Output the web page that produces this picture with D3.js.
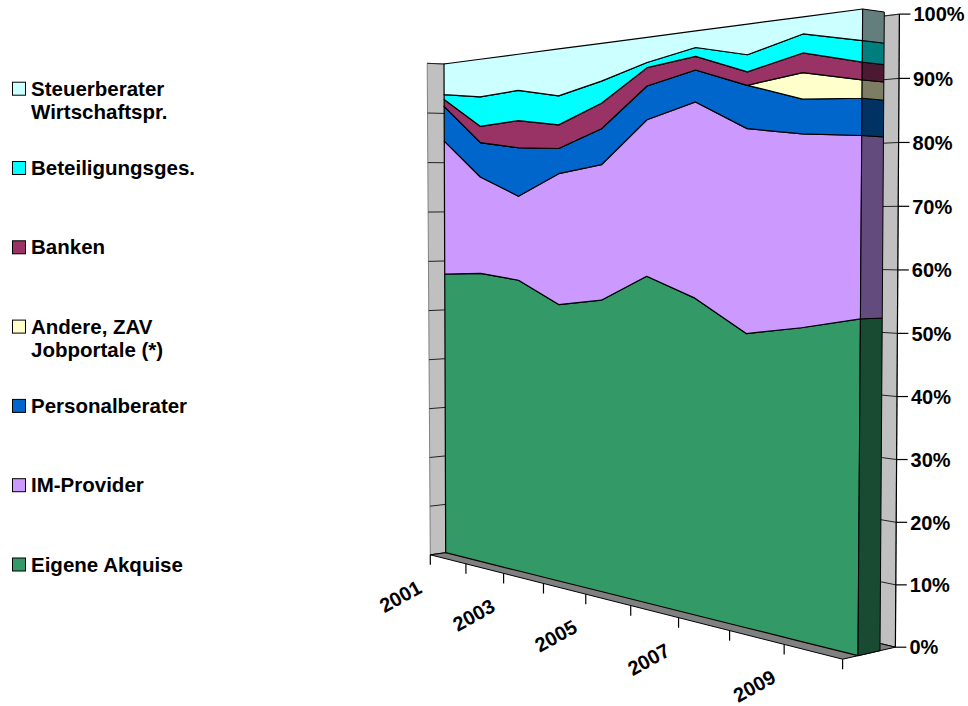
<!DOCTYPE html>
<meta charset="utf-8">
<style>
  body { margin: 0; background: #fff; }
  text { font-family: Arial, "Liberation Sans", sans-serif; font-weight: bold; fill: #000; }
</style>
<svg width="968" height="706"></svg>
<script src="https://d3js.org/d3.v7.min.js"></script>
<script>

var years = [2001, 2002, 2003, 2004, 2005, 2006, 2007, 2008, 2009, 2010];
var yearLabels = [2001, 2003, 2005, 2007, 2009];

// shares in percent, bottom of the stack first
var eigene   = [57.3, 57.7, 56.6, 52.3, 53.5, 58.1, 54.6, 49.1, 50.6, 52.5];
var imProv   = [27.1, 19.1, 16.2, 24.5, 24.6, 27.5, 33.4, 33.8, 30.9, 28.2];
var personal = [7.0, 6.8, 9.3, 4.7, 6.5, 5.9, 5.4, 7.1, 5.5, 5.7];
var andere   = [0, 0, 0, 0, 0, 0, 0, 0, 4.2, 2.8];
var banken   = [1.4, 3.2, 5.2, 4.4, 4.6, 3.2, 2.3, 2.2, 3.1, 2.7];
var beteil   = [1.0, 5.8, 5.8, 5.4, 4.0, 0.9, 1.5, 2.8, 3.0, 3.3];
var steuer   = [6.2, 7.4, 6.9, 8.7, 6.8, 4.4, 2.8, 5.0, 2.7, 4.8];

var keys = ["eigene", "imProv", "personal", "andere", "banken", "beteil", "steuer"];
var labels = [["Eigene Akquise"], ["IM-Provider"], ["Personalberater"], ["Andere, ZAV", "Jobportale (*)"],
              ["Banken"], ["Beteiligungsges."], ["Steuerberater", "Wirtschaftspr."]];
var colors = ["#339966", "#cc99ff", "#0066cc", "#ffffcc", "#993366", "#00ffff", "#ccffff"];

var table = years.map(function (y, i) {
    return { year: y, eigene: eigene[i], imProv: imProv[i], personal: personal[i], andere: andere[i],
             banken: banken[i], beteil: beteil[i], steuer: steuer[i] };
});

var stack = d3.stack().keys(keys).offset(d3.stackOffsetExpand);
var layers = stack(table);

var svg = d3.select("svg");

// u along the years, v along the share
var u = d3.scaleLinear().domain([2001, 2010]).range([0, 1]);
var v = d3.scaleLinear().domain([0, 1]).range([0, 1]);

// front plane of the series: unit square -> screen quad (perspective)
function squareToQuad(q) {
    var x0 = q[0][0], y0 = q[0][1], x1 = q[1][0], y1 = q[1][1],
        x2 = q[2][0], y2 = q[2][1], x3 = q[3][0], y3 = q[3][1];
    var dx1 = x1 - x2, dx2 = x3 - x2, dx3 = x0 - x1 + x2 - x3,
        dy1 = y1 - y2, dy2 = y3 - y2, dy3 = y0 - y1 + y2 - y3;
    var den = dx1 * dy2 - dx2 * dy1;
    var g = (dx3 * dy2 - dx2 * dy3) / den,
        h = (dx1 * dy3 - dx3 * dy1) / den;
    var a = x1 - x0 + g * x1, b = x3 - x0 + h * x3,
        d = y1 - y0 + g * y1, e = y3 - y0 + h * y3;
    return function (s, t) {
        var w = g * s + h * t + 1;
        return [(a * s + b * t + x0) / w, (d * s + e * t + y0) / w];
    };
}
var front = squareToQuad([[445.7, 552.7], [858, 655.7], [862.7, 9], [444, 64]]);
// depth direction at the four corners (per unit of series depth)
var depth = { d00: [22, -3], d10: [22, -5], d11: [21.6, 3], d01: [24, 1] };

function P(s, t, z) {
    var p = front(s, t);
    var dx = (1 - s) * (1 - t) * depth.d00[0] + s * (1 - t) * depth.d10[0] + s * t * depth.d11[0] + (1 - s) * t * depth.d01[0];
    var dy = (1 - s) * (1 - t) * depth.d00[1] + s * (1 - t) * depth.d10[1] + s * t * depth.d11[1] + (1 - s) * t * depth.d01[1];
    return [p[0] + z * dx, p[1] + z * dy];
}

var zFront = -0.7, zBack = 1.7;
var poly = function (pts) { return "M" + pts.map(function (p) { return p[0] + "," + p[1]; }).join("L") + "Z"; };
var vTicks = v.ticks(10);

// back wall
svg.append("path")
    .attr("d", poly([P(0, 0, zBack), P(1, 0, zBack), P(1, 1, zBack), P(0, 1, zBack)]))
    .attr("fill", "#c0c0c0").attr("stroke", "#808080");
svg.append("g").selectAll("line").data(vTicks).join("line")
    .attr("x1", function (d) { return P(0, v(d), zBack)[0]; })
    .attr("y1", function (d) { return P(0, v(d), zBack)[1]; })
    .attr("x2", function (d) { return P(1, v(d), zBack)[0]; })
    .attr("y2", function (d) { return P(1, v(d), zBack)[1]; })
    .attr("stroke", "#222").attr("stroke-width", 1);

// left wall
svg.append("path")
    .attr("d", poly([P(0, 0, zFront), P(0, 0, zBack), P(0, 1, zBack), P(0, 1, zFront)]))
    .attr("fill", "#c0c0c0").attr("stroke", "#808080");
svg.append("g").selectAll("line").data(vTicks).join("line")
    .attr("x1", function (d) { return P(0, v(d), zFront)[0]; })
    .attr("y1", function (d) { return P(0, v(d), zFront)[1]; })
    .attr("x2", function (d) { return P(0, v(d), zBack)[0]; })
    .attr("y2", function (d) { return P(0, v(d), zBack)[1]; })
    .attr("stroke", "#222").attr("stroke-width", 1);

// floor
svg.append("path")
    .attr("d", poly([P(0, 0, zFront), P(1, 0, zFront), P(1, 0, zBack), P(0, 0, zBack)]))
    .attr("fill", "#808080").attr("stroke", "#000").attr("stroke-width", 1);

// right axis line (edge of the back wall)
svg.append("line")
    .attr("x1", P(1, 0, zBack)[0]).attr("y1", P(1, 0, zBack)[1])
    .attr("x2", P(1, 1, zBack)[0]).attr("y2", P(1, 1, zBack)[1])
    .attr("stroke", "#000").attr("stroke-width", 1.2);

// series front faces
svg.append("g").selectAll("path").data(layers).join("path")
    .attr("d", function (layer) {
        var top = layer.map(function (d) { return P(u(d.data.year), v(d[1]), 0); });
        var bot = layer.map(function (d) { return P(u(d.data.year), v(d[0]), 0); }).reverse();
        return poly(top.concat(bot));
    })
    .attr("fill", function (d, i) { return colors[i]; })
    .attr("stroke", "#000").attr("stroke-width", 1.2).attr("stroke-linejoin", "round");

// series side faces at the last year
svg.append("g").selectAll("path").data(layers).join("path")
    .attr("d", function (layer) {
        var d = layer[layer.length - 1], s = u(d.data.year);
        return poly([P(s, v(d[0]), 0), P(s, v(d[1]), 0), P(s, v(d[1]), 1), P(s, v(d[0]), 1)]);
    })
    .attr("fill", function (d, i) { return d3.rgb(colors[i]).darker(2); })
    .attr("stroke", "#000").attr("stroke-width", 1);

// right axis ticks and labels
var pct = d3.format(".0%");
var ry = svg.append("g");
ry.selectAll("line").data(vTicks).join("line")
    .attr("x1", function (d) { return P(1, v(d), zBack)[0]; })
    .attr("y1", function (d) { return P(1, v(d), zBack)[1]; })
    .attr("x2", function (d) { return P(1, v(d), zBack)[0] + 11; })
    .attr("y2", function (d) { return P(1, v(d), zBack)[1]; })
    .attr("stroke", "#000").attr("stroke-width", 1.2);
ry.selectAll("text").data(vTicks).join("text")
    .attr("x", function (d) { return P(1, v(d), zBack)[0] + 14; })
    .attr("y", function (d) { return P(1, v(d), zBack)[1]; })
    .attr("dy", "0.36em")
    .style("font-size", "20px")
    .text(pct);

// x axis ticks on the front edge of the floor
var bx = svg.append("g");
bx.selectAll("line").data(years).join("line")
    .attr("x1", function (d) { return P(u(d), 0, zFront)[0]; })
    .attr("y1", function (d) { return P(u(d), 0, zFront)[1]; })
    .attr("x2", function (d) { return P(u(d), 0, zFront)[0]; })
    .attr("y2", function (d) { return P(u(d), 0, zFront)[1] + 10; })
    .attr("stroke", "#000").attr("stroke-width", 1.2);
bx.selectAll("text").data(yearLabels).join("text")
    .attr("transform", function (d) {
        var p = P(u(d), 0, zFront);
        return "translate(" + (p[0] - 7) + "," + (p[1] + 37) + ") rotate(-29)";
    })
    .attr("text-anchor", "end")
    .style("font-size", "20px")
    .text(function (d) { return d; });

// legend, top of the stack first
var legend = svg.append("g").selectAll("g").data(d3.range(keys.length).reverse()).join("g")
    .attr("transform", function (d, i) { return "translate(12," + (95.7 + i * 79.3) + ")"; });
legend.append("rect")
    .attr("x", 0.5).attr("y", -13.5).attr("width", 13).attr("height", 13)
    .attr("fill", function (d) { return colors[d]; })
    .attr("stroke", "#000").attr("stroke-width", 1);
legend.append("text")
    .attr("x", 19)
    .style("font-size", "20.5px")
    .selectAll("tspan").data(function (d) { return labels[d]; }).join("tspan")
    .attr("x", 19)
    .attr("y", function (d, i) { return i * 23.6; })
    .text(function (d) { return d; });

</script>
